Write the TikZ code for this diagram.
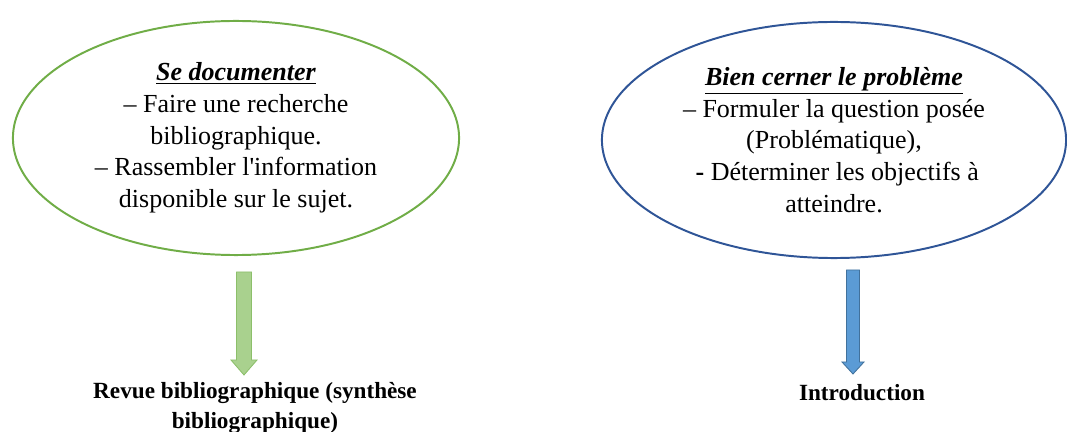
\documentclass[tikz,border=0pt]{standalone}
\usepackage{fontspec}
\setmainfont{Liberation Serif}
\usetikzlibrary{shapes.geometric}

\definecolor{docgreen}{HTML}{70AD47}
\definecolor{docblue}{HTML}{2F5597}
\definecolor{arrowgreen}{HTML}{A9D18E}
\definecolor{arrowgreenline}{HTML}{8CBF6A}
\definecolor{arrowblue}{HTML}{5B9BD5}
\definecolor{arrowblueline}{HTML}{41719C}

\begin{document}
\begin{tikzpicture}[ x = 0.025cm, y = -0.025cm,
    bubble/.style   = {ellipse, line width = 1.4pt, align = center, inner sep = 0pt,
                       font = \fontsize{18.5}{22.5}\selectfont},
    result/.style   = {align = center, font = \fontsize{16.5}{21.5}\selectfont\bfseries},
    fatarrow/.style = {line width = 0.6pt, line join = miter}
  ]
    \useasboundingbox (0,0) rectangle (1067,432);

    % the two steps
    \node[bubble, draw = docgreen, minimum width = 11.15cm, minimum height = 5.85cm]
      (doc) at (236,138)
      {\underline{\textbf{\textit{Se documenter}}}\\
       -- Faire une recherche\\
       bibliographique.\\
       -- Rassembler l\textquotesingle information\\
       disponible sur le sujet.};

    \node[bubble, draw = docblue, minimum width = 11.6cm, minimum height = 5.9cm]
      (pb) at (834,140)
      {\underline{\textbf{\textit{Bien cerner le problème}}}\\
       -- Formuler la question posée\\
       (Problématique),\\
       \ \textbf{-} Déterminer les objectifs à\\
       atteindre.};

    % block arrows
    \coordinate (arrdoc) at (244,272);
    \coordinate (arrpb) at (853,270);
    \draw[fatarrow, draw = arrowgreenline, fill = arrowgreen]
      (arrdoc) ++(-7.5,0) -- ++(15,0) -- ++(0,88) -- ++(5.5,0)
      -- ++(-13,15) -- ++(-13,-15) -- ++(5.5,0) -- cycle;
    \draw[fatarrow, draw = arrowblueline, fill = arrowblue]
      (arrpb) ++(-6.5,0) -- ++(13,0) -- ++(0,92) -- ++(4.5,0)
      -- ++(-11,12) -- ++(-11,-12) -- ++(4.5,0) -- cycle;

    % what comes out of each step
    \node[result] (revue) at (255,408)
      {Revue bibliographique (synthèse\\ bibliographique)};
    \node[result] (intro) at (862,393) {Introduction};

  \end{tikzpicture}
\end{document}
